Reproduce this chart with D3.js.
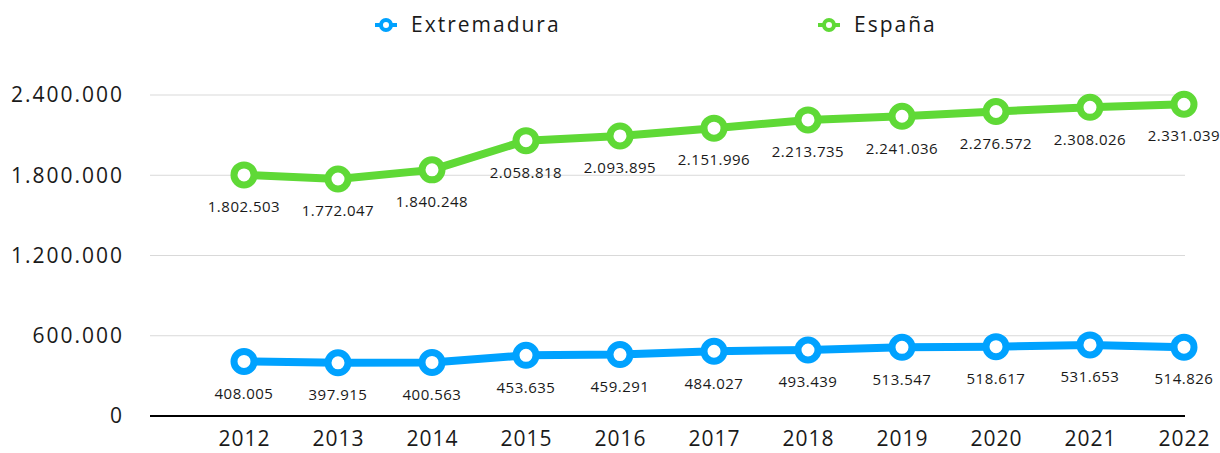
<!DOCTYPE html>
<html><head><meta charset="utf-8">
<script src="https://cdn.jsdelivr.net/npm/d3@7"></script>
<style>body{margin:0;background:#fff}svg{display:block}text{font-family:"Open Sans",sans-serif;fill:#1a1a1a}</style>
</head><body><svg id="c" width="1220" height="453"></svg>
<script>
const years = [2012,2013,2014,2015,2016,2017,2018,2019,2020,2021,2022];
const extremadura = [408005,397915,400563,453635,459291,484027,493439,513547,518617,531653,514826];
const espana = [1802503,1772047,1840248,2058818,2093895,2151996,2213735,2241036,2276572,2308026,2331039];
const yTicks = [0,600000,1200000,1800000,2400000];
const seriesNames = ["Extremadura","España"];
const colors = ["#00a2ff","#5fd936"];

const svg = d3.select("#c");
const fmt = v => d3.format(",")(v).replace(/,/g,".");
const x = d3.scaleLinear().domain([2011,2022]).range([150,1184]);
const y = d3.scaleLinear().domain([0,2400000]).range([416,95]);

// grid
svg.append("g").selectAll("line").data(yTicks.filter(d=>d>0)).join("line")
  .attr("x1",150).attr("x2",1185).attr("y1",d=>y(d)).attr("y2",d=>y(d))
  .attr("stroke","#d9d9d9").attr("stroke-width",1);
// y labels
svg.append("g").selectAll("text").data(yTicks).join("text")
  .attr("x",124).attr("y",d=>y(d)).attr("dy","0.35em").attr("text-anchor","end")
  .style("font-size","21px").style("letter-spacing","2px").text(fmt);
// x axis line
svg.append("line").attr("x1",150).attr("x2",1185).attr("y1",y(0)).attr("y2",y(0))
  .attr("stroke","#000").attr("stroke-width",2);
// x labels
svg.append("g").selectAll("text").data(years).join("text")
  .attr("x",d=>x(d)+0.5).attr("y",440).attr("dy","0.3em").attr("text-anchor","middle")
  .style("font-size","21px").style("letter-spacing","1px").text(d=>d);

const all = [extremadura, espana];
all.forEach((vals,si)=>{
  const pts = years.map((yr,i)=>[x(yr),y(vals[i]),vals[i]]);
  svg.append("path").attr("d",d3.line()(pts.map(p=>[p[0],p[1]])))
    .attr("fill","none").attr("stroke",colors[si]).attr("stroke-width",8).attr("stroke-linejoin","round");
  svg.append("g").selectAll("circle").data(pts).join("circle")
    .attr("cx",d=>d[0]).attr("cy",d=>d[1]).attr("r",10)
    .attr("fill","#fff").attr("stroke",colors[si]).attr("stroke-width",7);
  svg.append("g").selectAll("text").data(pts).join("text")
    .attr("x",d=>d[0]).attr("y",d=>d[1]+32).attr("dy","0.35em").attr("text-anchor","middle")
    .style("font-size","15px").style("letter-spacing","0.5px").text(d=>fmt(d[2]));
});

// legend
const legX = [386, 829];
seriesNames.forEach((n,i)=>{
  const g = svg.append("g").attr("transform",`translate(${legX[i]},25)`);
  g.append("line").attr("x1",-11).attr("x2",11).attr("stroke",colors[i]).attr("stroke-width",4);
  g.append("circle").attr("r",5).attr("fill","#fff").attr("stroke",colors[i]).attr("stroke-width",4);
  g.append("text").attr("x",25).attr("dy","0.35em").style("font-size","21px").style("letter-spacing","2px").text(n);
});
</script></body></html>
